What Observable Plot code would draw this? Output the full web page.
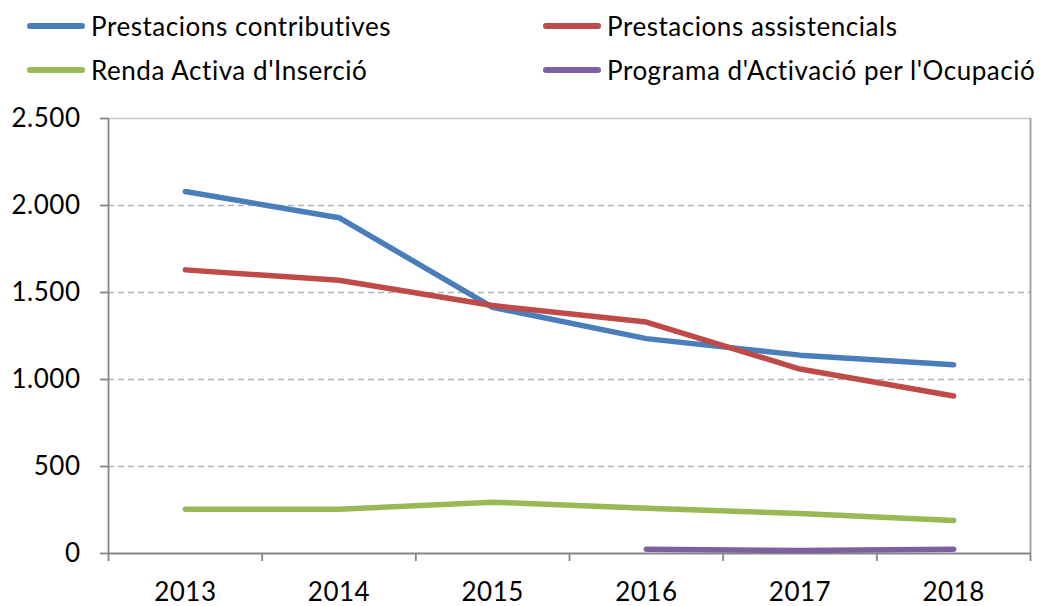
<!DOCTYPE html>
<html>
<head>
<meta charset="utf-8">
<script src="https://cdn.jsdelivr.net/npm/d3@7"></script>
<script src="https://cdn.jsdelivr.net/npm/@observablehq/plot@0.6"></script>
<style>
  html, body { margin: 0; padding: 0; background: #fff; }
  #wrap { position: relative; width: 1046px; height: 606px; font-family: Lato, "Open Sans", sans-serif; }
  #legend { position: relative; width: 1046px; height: 100px; }
  .item { position: absolute; display: flex; align-items: center; font-size: 26px; letter-spacing: 0.55px; color: #000; white-space: nowrap; }
  .sw { width: 58px; height: 6px; border-radius: 3px; margin-right: 6px; }
</style>
</head>
<body>
<div id="wrap">
  <div id="legend"></div>
  <div id="chart"></div>
</div>
<script>
const years = [2013, 2014, 2015, 2016, 2017, 2018];
const contributives = [2080, 1930, 1415, 1235, 1140, 1085];
const assistencials = [1630, 1570, 1425, 1330, 1060, 905];
const renda = [255, 255, 295, 260, 230, 190];
const programa = [null, null, null, 25, 17, 25];
const seriesNames = ["Prestacions contributives", "Prestacions assistencials", "Renda Activa d'Inserció", "Programa d'Activació per l'Ocupació"];
const seriesColors = ["#4A7EBB", "#BE4B48", "#98B954", "#7D60A0"];
const yTicks = [0, 500, 1000, 1500, 2000, 2500];

const seriesValues = [contributives, assistencials, renda, programa];

// Legend
const legendPos = [[27, 26], [543, 26], [27, 70], [543, 70]];
const legend = d3.select("#legend");
seriesNames.forEach((name, i) => {
  const it = legend.append("div").attr("class", "item")
    .style("left", legendPos[i][0] + "px")
    .style("top", (legendPos[i][1] - 16) + "px")
    .style("height", "32px");
  it.append("div").attr("class", "sw").style("background", seriesColors[i]);
  it.append("span").text(name);
});

const boundaries = d3.range(years.length + 1).map(i => years[0] - 0.5 + i);
const fmt = d => d3.format(",")(d).replace(/,/g, ".");

const lineMarks = seriesValues.map((vals, i) => {
  const data = years.map((y, j) => ({year: y, value: vals[j]})).filter(d => d.value != null);
  return Plot.line(data, {x: "year", y: "value", stroke: seriesColors[i], strokeWidth: 5.5, strokeLinecap: "round", strokeLinejoin: "round"});
});

const chart = Plot.plot({
  width: 1046,
  height: 506,
  marginTop: 18,
  marginBottom: 53,
  marginLeft: 108,
  marginRight: 16,
  style: {fontFamily: "Lato, 'Open Sans', sans-serif", fontSize: "26px", letterSpacing: "0.5px", color: "#000", background: "#fff", overflow: "visible"},
  x: {type: "linear", domain: [years[0] - 0.5, years[years.length - 1] + 0.5]},
  y: {domain: [0, 2500]},
  marks: [
    Plot.ruleY(yTicks.slice(1, -1), {stroke: "#b4b4b4", strokeDasharray: "6,4", strokeWidth: 1.3}),
    Plot.ruleY([yTicks[yTicks.length - 1]], {stroke: "#c8c8c8", strokeWidth: 1.3}),
    Plot.ruleX([boundaries[boundaries.length - 1]], {stroke: "#9a9a9a", strokeWidth: 1.8}),
    Plot.ruleX([boundaries[0]], {stroke: "#868686", strokeWidth: 1.8}),
    Plot.axisY({ticks: yTicks, tickSize: 8, tickPadding: 20, tickFormat: fmt, stroke: "#868686", strokeWidth: 1.8, fill: "#000", label: null, fontSize: 26}),
    Plot.axisX({ticks: boundaries, tickSize: 8, tickFormat: () => "", stroke: "#868686", strokeWidth: 1.8, label: null}),
    Plot.axisX({ticks: years, tickSize: 0, tickPadding: 29, tickFormat: d => String(d), fill: "#000", label: null, fontSize: 26}),
    Plot.ruleY([0], {stroke: "#868686", strokeWidth: 1.8}),
    ...lineMarks
  ]
});
document.getElementById("chart").appendChild(chart);
</script>
</body>
</html>
